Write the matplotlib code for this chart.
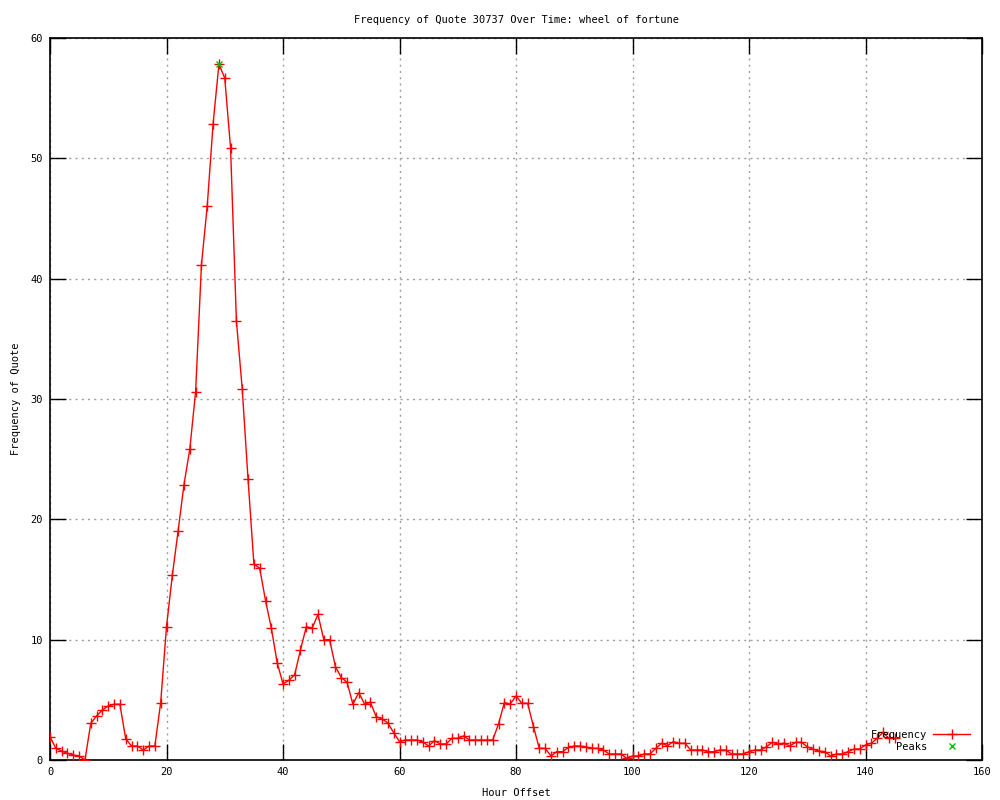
import matplotlib
matplotlib.use("Agg")
import matplotlib.pyplot as plt

hours = list(range(0, 146))
frequency = [
    1.94, 0.97, 0.75, 0.55, 0.42, 0.33, 0.0, 3.05, 3.66, 4.16,
    4.49, 4.63, 4.63, 1.75, 1.16, 1.16, 0.83, 1.16, 1.16, 4.77,
    11.08, 15.35, 19.06, 22.89, 25.83, 30.62, 41.15, 46.08, 52.87, 57.83,
    56.67, 50.85, 36.49, 30.84, 23.33, 16.29, 15.93, 13.25, 10.95, 8.09,
    6.32, 6.62, 7.09, 9.14, 11.08, 10.95, 12.1, 10.0, 10.0, 7.76,
    6.85, 6.46, 4.63, 5.6, 4.65, 4.8, 3.6, 3.41, 3.08, 2.27,
    1.52, 1.66, 1.66, 1.66, 1.5, 1.16, 1.61, 1.33, 1.33, 1.8,
    1.8, 2.0, 1.66, 1.66, 1.66, 1.66, 1.66, 3.0, 4.77, 4.65,
    5.32, 4.71, 4.71, 2.77, 0.97, 0.97, 0.33, 0.69, 0.69, 1.05,
    1.16, 1.16, 1.1, 0.97, 0.97, 0.83, 0.5, 0.5, 0.5, 0.14,
    0.33, 0.33, 0.5, 0.5, 0.97, 1.39, 1.19, 1.52, 1.39, 1.39,
    0.83, 0.83, 0.83, 0.69, 0.69, 0.83, 0.83, 0.5, 0.5, 0.5,
    0.69, 0.83, 0.83, 1.1, 1.47, 1.33, 1.4, 1.16, 1.47, 1.47,
    1.1, 0.89, 0.75, 0.69, 0.33, 0.5, 0.5, 0.69, 0.91, 0.91,
    1.25, 1.39, 1.8, 2.3, 1.8, 1.8,
]
peak_hours = [29]
peak_values = [57.83]

x_ticks = [0, 20, 40, 60, 80, 100, 120, 140, 160]
y_ticks = [0, 10, 20, 30, 40, 50, 60]

FONT = "DejaVu Sans Mono"
FS = 7.5

fig = plt.figure(figsize=(10, 8), dpi=100)
ax = fig.add_axes([0.05, 0.05, 0.932, 0.9025])

ax.plot(hours, frequency, color="#ff0000", linewidth=1.0, marker="+",
        markersize=6.5, markeredgewidth=1.0, label="Frequency", zorder=3)
ax.plot(peak_hours, peak_values, linestyle="none", color="#00c000", marker="x",
        markersize=5, markeredgewidth=1.0, label="Peaks", zorder=4)

ax.set_xlim(0, 160)
ax.set_ylim(0, 60)
ax.set_xticks(x_ticks)
ax.set_yticks(y_ticks)
ax.set_xticklabels([str(v) for v in x_ticks], fontfamily=FONT, fontsize=FS)
ax.set_yticklabels([str(v) for v in y_ticks], fontfamily=FONT, fontsize=FS)
ax.tick_params(direction="in", length=11.5, width=1.0, top=True, right=True,
               pad=5, colors="black")
ax.grid(True, color="#a0a0a0", linestyle=(0, (1.5, 3)), linewidth=1.0)
ax.set_axisbelow(True)
for s in ax.spines.values():
    s.set_linewidth(1.2)
    s.set_color("black")

ax.set_title("Frequency of Quote 30737 Over Time: wheel of fortune",
             fontfamily=FONT, fontsize=FS, pad=11)
ax.set_xlabel("Hour Offset", fontfamily=FONT, fontsize=FS, labelpad=8)
ax.set_ylabel("Frequency of Quote", fontfamily=FONT, fontsize=FS, labelpad=7)

leg = ax.legend(loc="lower right", bbox_to_anchor=(0.975, 0.054),
                bbox_transform=fig.transFigure, frameon=False,
                markerfirst=False, handlelength=3.5, handletextpad=0.6,
                labelspacing=0.2, borderpad=0.0,
                prop={"family": FONT, "size": FS})
leg.set_zorder(5)

fig.savefig("out.png", dpi=100)
